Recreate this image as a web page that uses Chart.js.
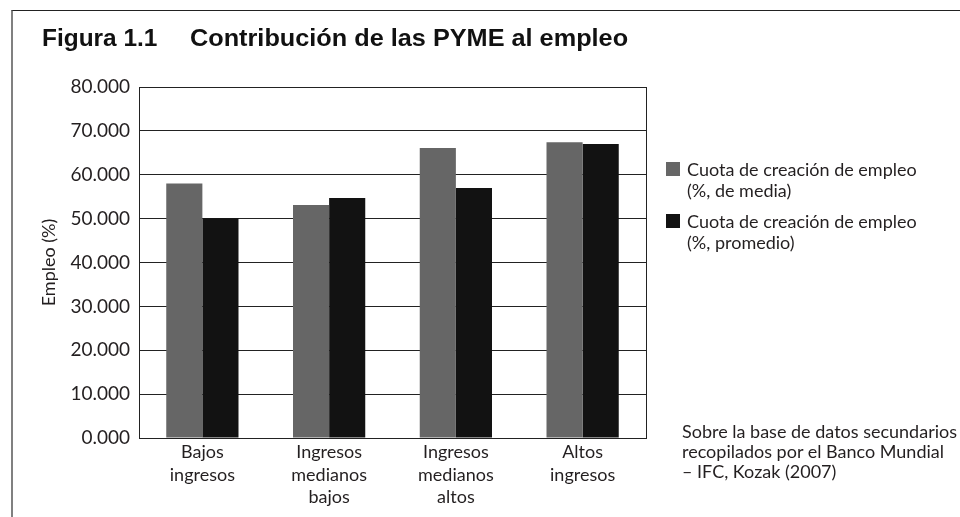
<!DOCTYPE html>
<html>
<head>
<meta charset="utf-8">
<script src="https://cdn.jsdelivr.net/npm/chart.js@4"></script>
<style>
  body { margin: 0; background: #fff; }
  #wrap { position: absolute; left: 0; top: 0; width: 960px; height: 517px; }
  #frame { position: absolute; left: 11px; top: 10px; width: 949px; height: 507px;
           border-left: 2px solid #808080; border-top: 1px solid #222; }
  .ttl { position: absolute; top: 26px; font: bold 24px "Liberation Sans", Arial, sans-serif; line-height: 1;
         color: #111; white-space: pre; transform-origin: left top; }
  #legend { position: absolute; left: 666px; top: 159px; font: 18px Lato, sans-serif; color: #231f20; }
  .item { position: relative; padding-left: 21px; line-height: 21px; margin-bottom: 10px; white-space: nowrap; }
  .item span { position: absolute; left: 0; top: 3px; width: 14px; height: 14px; }
  #note { position: absolute; left: 682px; top: 421px; font: 18px Lato, sans-serif; color: #231f20; line-height: 20px; white-space: nowrap; }
</style>
</head>
<body>
<div id="wrap"><canvas id="chart"></canvas></div>
<div id="frame"></div>
<div class="ttl" id="fig" style="left:42px">Figura 1.1</div>
<div class="ttl" id="ttl" style="left:190px">Contribución de las PYME al empleo</div>
<div id="legend"></div>
<div id="note">Sobre la base de datos secundarios<br>recopilados por el Banco Mundial<br>– IFC, Kozak (2007)</div>
<script>
// ---------- Data ----------
const categories = [
  ["Bajos", "ingresos"],
  ["Ingresos", "medianos", "bajos"],
  ["Ingresos", "medianos", "altos"],
  ["Altos", "ingresos"]
];
const mediaValues = [58.0, 53.1, 66.1, 67.4];
const promedioValues = [50.1, 54.7, 57.0, 67.0];
const seriesNames = [
  ["Cuota de creación de empleo", "(%, de media)"],
  ["Cuota de creación de empleo", "(%, promedio)"]
];
const seriesColors = ["#666666", "#121212"];
const yMin = 0, yMax = 80, yStep = 10;

// fit the heading pieces to the widths they have in the original
function fitWidth(id, w) {
  const el = document.getElementById(id);
  el.style.transform = "scaleX(" + (w / el.offsetWidth) + ")";
}
fitWidth("fig", 115);
fitWidth("ttl", 438);

// ---------- Plot border ----------
const frameBox = {
  id: "frameBox",
  beforeDatasetsDraw(chart) {
    const a = chart.chartArea, ctx = chart.ctx;
    ctx.save();
    ctx.strokeStyle = "#222";
    ctx.lineWidth = 1;
    ctx.strokeRect(Math.round(a.left) + 0.5, Math.round(a.top) + 0.5,
                   Math.round(a.right - a.left), Math.round(a.bottom - a.top));
    ctx.restore();
  }
};

const chart = new Chart(document.getElementById("chart"), {
  type: "bar",
  data: {
    labels: categories,
    datasets: [
      { label: seriesNames[0].join(" "), data: mediaValues, backgroundColor: seriesColors[0] },
      { label: seriesNames[1].join(" "), data: promedioValues, backgroundColor: seriesColors[1] }
    ]
  },
  options: {
    responsive: true,
    maintainAspectRatio: false,
    animation: false,
    layout: { padding: { left: 38, top: 87, right: 314, bottom: 0 } },
    datasets: { bar: { categoryPercentage: 0.57, barPercentage: 1 } },
    plugins: { legend: { display: false }, tooltip: { enabled: false } },
    scales: {
      x: {
        grid: { display: false, drawTicks: false },
        border: { display: false },
        ticks: { color: "#231f20", font: { family: "Lato", size: 18, lineHeight: 1.25 }, padding: 3, maxRotation: 0 },
        afterFit(s) { s.height = 79; }
      },
      y: {
        min: yMin, max: yMax,
        grid: { color: "#222", lineWidth: 1, drawTicks: false },
        border: { display: false },
        ticks: {
          stepSize: yStep, padding: 9, color: "#231f20",
          font: { family: "Lato", size: 19 },
          callback: v => v.toFixed(3)
        },
        title: { display: true, text: "Empleo (%)", color: "#231f20", font: { family: "Lato", size: 18 }, padding: 0 },
        afterFit(s) { s.width = 101; }
      }
    }
  },
  plugins: [frameBox]
});

// ---------- HTML legend ----------
const legend = document.getElementById("legend");
chart.data.datasets.forEach((ds, i) => {
  const div = document.createElement("div");
  div.className = "item";
  div.innerHTML = '<span style="background:' + ds.backgroundColor + '"></span>' + seriesNames[i].join("<br>");
  legend.appendChild(div);
});
</script>
</body>
</html>
